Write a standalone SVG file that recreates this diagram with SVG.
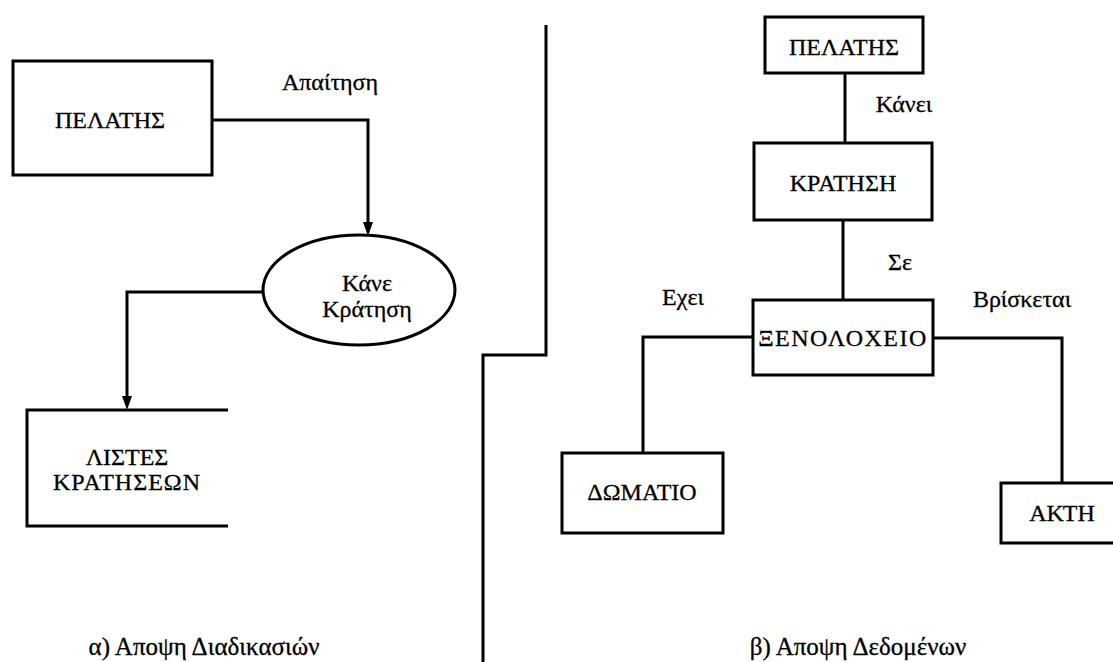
<svg xmlns="http://www.w3.org/2000/svg" width="1113" height="662" viewBox="0 0 1113 662">
  <style>
    .box { fill: none; stroke: #000; stroke-width: 3; }
    .line { fill: none; stroke: #000; stroke-width: 3; }
    .t { font-family: "Liberation Serif", "DejaVu Serif", serif; font-size: 24px; fill: #000; stroke: #000; stroke-width: 0.3; text-anchor: middle; }
    .lbl { font-family: "Liberation Serif", "DejaVu Serif", serif; font-size: 24px; fill: #000; stroke: #000; stroke-width: 0.3; text-anchor: middle; }
    .cap { font-family: "Liberation Serif", "DejaVu Serif", serif; font-size: 25px; fill: #000; stroke: #000; stroke-width: 0.3; text-anchor: middle; }
  </style>
  <defs>
    <path id="arrowhead" d="M-5,-14 L5,-14 L0,0 Z" fill="#000"/>
  </defs>
  <rect width="1113" height="662" fill="#fff"/>

  <!-- connectors -->
  <g id="connectors">
    <!-- process view: customer request and booking output -->
    <polyline class="line" points="212,120 368,120 368,222"/>
    <use href="#arrowhead" x="368" y="236"/>
    <polyline class="line" points="263,292 127,292 127,396"/>
    <use href="#arrowhead" x="127" y="410"/>
    <!-- data view relationships -->
    <line class="line" x1="845" y1="73" x2="845" y2="143"/>
    <line class="line" x1="843" y1="220" x2="843" y2="300"/>
    <polyline class="line" points="753,337 643,337 643,453"/>
    <polyline class="line" points="933,338 1062,338 1062,483"/>
    <!-- divider between the two views -->
    <polyline class="line" points="546,25 546,355 483,355 483,662"/>
  </g>

  <!-- process view -->
  <g id="proc-pelatis">
    <rect class="box" x="13" y="61" width="199" height="114"/>
    <text class="t" x="110" y="128">ΠΕΛΑΤΗΣ</text>
  </g>
  <text class="lbl" x="330" y="90">Απαίτηση</text>
  <g id="proc-kane-kratisi">
    <ellipse class="box" cx="359" cy="290" rx="96" ry="55"/>
    <text class="lbl" x="367" y="291">Κάνε</text>
    <text class="lbl" x="367" y="317">Κράτηση</text>
  </g>
  <g id="proc-listes">
    <polyline class="box" points="228,410 27,410 27,526 228,526"/>
    <text class="t" x="127" y="465">ΛΙΣΤΕΣ</text>
    <text class="t" x="127" y="490" letter-spacing="1">ΚΡΑΤΗΣΕΩΝ</text>
  </g>
  <text class="cap" x="204" y="655">α) Αποψη Διαδικασιών</text>

  <!-- data view -->
  <g id="data-pelatis">
    <rect class="box" x="765" y="17" width="158" height="56"/>
    <text class="t" x="844" y="55">ΠΕΛΑΤΗΣ</text>
  </g>
  <text class="lbl" x="904" y="112">Κάνει</text>
  <g id="data-kratisi">
    <rect class="box" x="754" y="143" width="178" height="77"/>
    <text class="t" x="843" y="191">ΚΡΑΤΗΣΗ</text>
  </g>
  <text class="lbl" x="900" y="270">Σε</text>
  <g id="data-xenodoxeio">
    <rect class="box" x="753" y="300" width="180" height="75"/>
    <text class="t" x="843" y="346" letter-spacing="1.5">ΞΕΝΟΛΟΧΕΙΟ</text>
  </g>
  <text class="lbl" x="683" y="305">Εχει</text>
  <text class="lbl" x="1022" y="307">Βρίσκεται</text>
  <g id="data-domatio">
    <rect class="box" x="562" y="453" width="161" height="80"/>
    <text class="t" x="642" y="500">ΔΩΜΑΤΙΟ</text>
  </g>
  <g id="data-akti">
    <polyline class="box" points="1116,483 1001,483 1001,543 1116,543"/>
    <text class="t" x="1062" y="521">ΑΚΤΗ</text>
  </g>
  <text class="cap" x="858" y="655">β) Αποψη Δεδομένων</text>
</svg>
